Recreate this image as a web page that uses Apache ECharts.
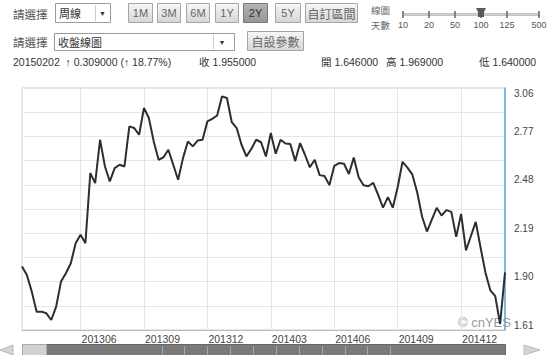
<!DOCTYPE html>
<html><head><meta charset="utf-8">
<script src="https://cdn.jsdelivr.net/npm/echarts@6/dist/echarts.min.js"></script>
<style>html,body{margin:0;padding:0;background:#fff}#c{width:553px;height:355px}</style>
</head><body><div id="c"></div>
<script>
// ---- data ----
const firstWeek = [2013, 3, 11];   // first weekly bar (Monday)
const weekCount = 100;
const closes = [
  1.99, 1.94, 1.84, 1.72, 1.72, 1.71, 1.67, 1.75, 1.90, 1.95,
  2.01, 2.13, 2.18, 2.13, 2.55, 2.49, 2.75, 2.59, 2.50, 2.58,
  2.60, 2.59, 2.83, 2.82, 2.78, 2.94, 2.88, 2.74, 2.63, 2.645,
  2.69, 2.60, 2.51, 2.64, 2.74, 2.71, 2.745, 2.75, 2.86, 2.875,
  2.895, 3.01, 3.00, 2.855, 2.82, 2.72, 2.65, 2.695, 2.75, 2.735,
  2.65, 2.79, 2.666, 2.75, 2.727, 2.724, 2.622, 2.73, 2.66, 2.585,
  2.63, 2.538, 2.533, 2.478, 2.593, 2.61, 2.606, 2.545, 2.643, 2.525,
  2.477, 2.471, 2.492, 2.42, 2.343, 2.406, 2.343, 2.465, 2.618, 2.583,
  2.542, 2.435, 2.29, 2.20, 2.272, 2.342, 2.296, 2.328, 2.318, 2.168,
  2.306, 2.087, 2.172, 2.258, 2.103, 1.953, 1.847, 1.813, 1.646, 1.955
];
const yMin = 1.61, yMax = 3.06, yStep = 0.145;
const yTickLabels = [1.61, 1.90, 2.19, 2.48, 2.77, 3.06];
const quarterMonths = [3, 6, 9, 12];
const rangeButtons = ['1M', '3M', '6M', '1Y', '2Y', '5Y', '自訂區間'];
const selectedRange = '2Y';
const daySteps = ['10', '20', '50', '100', '125', '500'];
const selectedDays = '100';
const periodLabel = '周線';
const chartTypeLabel = '收盤線圖';
const infoDate = '20150202';
const infoChange = '↑ 0.309000 (↑ 18.77%)';
const infoClose = '收 1.955000';
const infoOpen = '開 1.646000';
const infoHigh = '高 1.969000';
const infoLow = '低 1.640000';

// categories (weekly dates)
const categories = [];
const d0 = Date.UTC(firstWeek[0], firstWeek[1] - 1, firstWeek[2]);
for (let i = 0; i < weekCount; i++) {
  const d = new Date(d0 + i * 7 * 86400000);
  categories.push(d.getUTCFullYear() + String(d.getUTCMonth() + 1).padStart(2, '0') + String(d.getUTCDate()).padStart(2, '0'));
}
function isQuarterStart(idx) {
  const c = categories[idx];
  const m = +c.slice(4, 6), day = +c.slice(6, 8);
  return quarterMonths.indexOf(m) >= 0 && day <= 7;
}

// ---- chrome ----
const LAT = 'Arial, "Liberation Sans", sans-serif';
const CJK = '"Noto Sans CJK TC", "Noto Sans CJK SC", sans-serif';
const G = [];
function T(x, y, text, size, fill, family, align) {
  G.push({type: 'text', silent: true, style: {x: x, y: y, text: text, font: size + 'px ' + family, fill: fill, textAlign: align || 'left', textVerticalAlign: 'middle'}});
}
function R(x, y, w, h, fill, stroke) {
  G.push({type: 'rect', silent: true, shape: {x: x + 0.5, y: y + 0.5, width: w, height: h}, style: {fill: fill, stroke: stroke, lineWidth: 1}});
}
function L(x1, y1, x2, y2, stroke, w) {
  G.push({type: 'line', silent: true, shape: {x1: x1, y1: y1, x2: x2, y2: y2}, style: {stroke: stroke, lineWidth: w || 1}});
}
const btnGrad = () => new echarts.graphic.LinearGradient(0, 0, 0, 1, [{offset: 0, color: '#f7f7f7'}, {offset: 1, color: '#d6d6d6'}]);
const btnSel = () => new echarts.graphic.LinearGradient(0, 0, 0, 1, [{offset: 0, color: '#b4b4b4'}, {offset: 1, color: '#969696'}]);

// row 1
T(13, 14, '請選擇', 11.5, '#555', CJK);
R(55, 3, 55, 19, '#fff', '#9a9a9a');
T(59, 12.5, periodLabel, 11, '#333', CJK);
L(95.5, 5, 95.5, 21, '#ccc');
T(102.5, 13, '▼', 7, '#333', LAT, 'center');
const btnX = [128, 157, 186, 215, 243, 275, 305];
const btnW = [24, 23, 23, 23, 24, 25, 52];
rangeButtons.forEach((b, i) => {
  const sel = b === selectedRange;
  R(btnX[i], 3, btnW[i], 19, sel ? btnSel() : btnGrad(), sel ? '#777' : '#a5a5a5');
  T(btnX[i] + btnW[i] / 2 + 0.5, 13, b, b.length > 2 ? 12 : 11, sel ? '#333' : '#666', b.length > 2 ? CJK : LAT, 'center');
});
T(371, 9.5, '線圖', 9.5, '#666', CJK);
T(371, 24.5, '天數', 9.5, '#666', CJK);
const stepX = [403, 429, 455, 481, 507, 539];
R(403, 13, 136, 2, '#d0d0d0', '#c4c4c4');
daySteps.forEach((s, i) => {
  L(stepX[i], 11, stepX[i], 18, '#666', 1.5);
  T(stepX[i], 25, s, 9, '#555', LAT, 'center');
  if (s === selectedDays) {
    G.push({type: 'polygon', silent: true, shape: {points: [[stepX[i] - 5, 8], [stepX[i] + 5, 8], [stepX[i] + 3, 12], [stepX[i] + 3, 17], [stepX[i] - 3, 17], [stepX[i] - 3, 12]]}, style: {fill: '#5a5a5a'}});
  }
});

// row 2
T(13, 42, '請選擇', 11.5, '#555', CJK);
R(54, 33, 180, 17, '#fff', '#9a9a9a');
T(58, 41.5, chartTypeLabel, 11, '#333', CJK);
L(213.5, 35, 213.5, 49, '#ccc');
T(222, 42, '▼', 7, '#333', LAT, 'center');
R(247, 31, 56, 19, btnGrad(), '#a5a5a5');
T(275.5, 41, '自設參數', 12, '#666', CJK, 'center');

// row 3
T(13, 62, infoDate + '  ' + infoChange, 10.5, '#333', LAT);
T(199, 62, infoClose, 10.5, '#333', LAT + ', ' + CJK);
T(321, 62, infoOpen, 10.5, '#333', LAT + ', ' + CJK);
T(386, 62, infoHigh, 10.5, '#333', LAT + ', ' + CJK);
T(479, 62, infoLow, 10.5, '#333', LAT + ', ' + CJK);

// watermark
T(458, 322, '© cnYES', 13, '#9a9a9a', LAT);

// bottom scroller
G.push({type: 'polygon', silent: true, shape: {points: [[0, 350], [13, 345], [13, 355]]}, style: {fill: '#d4d4d4', stroke: '#bbb'}});
G.push({type: 'polygon', silent: true, shape: {points: [[540, 350], [524, 345], [524, 355]]}, style: {fill: '#d4d4d4', stroke: '#bbb'}});
R(22, 344, 483, 12, '#7a7a7a', '#666');
R(22, 344, 24, 12, '#d2d2d2', '#aaa');
[162, 184, 207, 230, 253, 276, 299, 322, 345, 367, 390].forEach(x => L(x + 0.5, 346, x + 0.5, 355, '#a8a8a8', 1));

const chart = echarts.init(document.getElementById('c'), null, {renderer: 'svg'});
chart.setOption({
  animation: false,
  backgroundColor: '#fff',
  grid: {left: 22, right: 48, top: 88, bottom: 25, show: true, borderColor: '#cfcfcf', borderWidth: 1, containLabel: false},
  xAxis: {
    type: 'category', boundaryGap: false, data: categories,
    axisLine: {show: true, lineStyle: {color: '#bdbdbd', width: 1}},
    axisTick: {show: false},
    axisLabel: {interval: (idx) => isQuarterStart(idx), formatter: v => v.slice(0, 6), align: 'left', margin: 3, padding: [0, 0, 0, 1],
      color: '#444', fontSize: 10.5, fontFamily: LAT},
    splitLine: {show: true, interval: (idx) => isQuarterStart(idx), lineStyle: {color: '#e6e6e6', width: 1}}
  },
  yAxis: {
    type: 'value', position: 'right', min: yMin, max: yMax, interval: yStep,
    axisLine: {show: true, lineStyle: {color: '#5fa8dc', width: 1.5}},
    axisTick: {show: false},
    axisLabel: {
      formatter: v => yTickLabels.some(t => Math.abs(t - v) < 1e-3) ? v.toFixed(2) : '',
      margin: 9, align: 'left', verticalAlign: 'bottom', verticalAlignMaxLabel: 'top',
      color: '#444', fontSize: 10, fontFamily: LAT
    },
    splitLine: {show: true, lineStyle: {color: '#e6e6e6', width: 1}}
  },
  series: [{
    type: 'line', data: closes, symbol: 'none', showSymbol: false,
    lineStyle: {color: '#2e2e2e', width: 2}, z: 3
  }],
  graphic: G
});
</script>
</body></html>
